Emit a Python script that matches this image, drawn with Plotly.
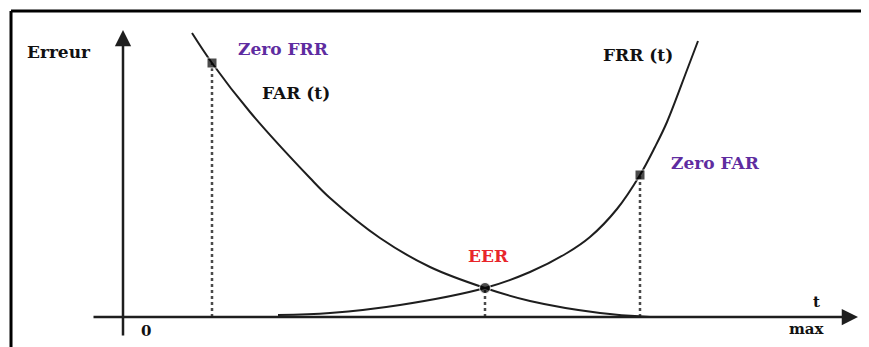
import plotly.graph_objects as go

# FAR(t) curve (t, error)
far_t = [0.69, 0.89, 1.27, 1.87, 2.07, 2.57, 3.07, 3.62, 4.07, 4.77, 5.27]
far_e = [2.84, 2.54, 2.05, 1.39, 1.19, 0.79, 0.50, 0.29, 0.16, 0.04, 0.00]

# FRR(t) curve
frr_t = [1.55, 2.07, 2.77, 3.62, 4.07, 4.44, 4.67, 4.94, 5.17, 5.32, 5.44, 5.64, 5.75]
frr_e = [0.02, 0.04, 0.12, 0.29, 0.45, 0.64, 0.80, 1.08, 1.42, 1.70, 1.95, 2.47, 2.76]

# special points
pt_names = ["Zero FRR", "EER", "Zero FAR"]
pt_t = [0.89, 3.62, 5.17]
pt_e = [2.54, 0.29, 1.42]

LINE = "#1e1e1e"
fig = go.Figure()

# dotted verticals
for tx, ey in zip(pt_t, pt_e):
    fig.add_trace(go.Scatter(x=[tx, tx], y=[0, ey], mode="lines",
                             line=dict(color="#4a4a4a", width=2.5, dash="dot"),
                             hoverinfo="skip", showlegend=False))

fig.add_trace(go.Scatter(x=far_t, y=far_e, mode="lines", line_shape="spline",
                         line=dict(color=LINE, width=2, smoothing=1.0), showlegend=False))
fig.add_trace(go.Scatter(x=frr_t, y=frr_e, mode="lines", line_shape="spline",
                         line=dict(color=LINE, width=2, smoothing=1.0), showlegend=False))

fig.add_trace(go.Scatter(x=pt_t, y=pt_e, mode="markers",
                         marker=dict(symbol=["square", "circle", "square"], size=[10, 11, 10],
                                     color="black"),
                         showlegend=False))

# axes with arrows
fig.add_annotation(x=7.35, y=0, ax=-0.31, ay=0, xref="x", yref="y", axref="x", ayref="y",
                   showarrow=True, arrowhead=2, arrowsize=1.3, arrowwidth=2.5,
                   arrowcolor=LINE, text="")
fig.add_annotation(x=0, y=2.87, ax=0, ay=-0.20, xref="x", yref="y", axref="x", ayref="y",
                   showarrow=True, arrowhead=2, arrowsize=1.3, arrowwidth=2.5,
                   arrowcolor=LINE, text="")

FONT = "DejaVu Serif"
def lab(text, x, y, color="#111111", size=17):
    fig.add_annotation(x=x, y=y, xref="x", yref="y", text="<b>%s</b>" % text,
                       showarrow=False, font=dict(family=FONT, size=size, color=color))

lab("Erreur", -0.64, 2.65)
lab("Zero FRR", 1.60, 2.68, color="#5e2ca0")
lab("FAR (t)", 1.73, 2.24)
lab("FRR (t)", 5.15, 2.62)
lab("Zero FAR", 5.92, 1.54, color="#5e2ca0")
lab("EER", 3.65, 0.61, color="#e8262a")
lab("0", 0.23, -0.14, size=15)
lab("t", 6.93, 0.15, size=15)
lab("max", 6.84, -0.12, size=15)

# frame (top and left)
fig.add_shape(type="line", xref="paper", yref="paper", x0=0.0035, x1=1.0, y0=0.9912, y1=0.9912,
              line=dict(color="black", width=3))
fig.add_shape(type="line", xref="paper", yref="paper", x0=0.0035, x1=0.0035, y0=0.0, y1=0.9912,
              line=dict(color="black", width=3))

fig.update_layout(width=861, height=339, margin=dict(l=0, r=0, t=0, b=0),
                  plot_bgcolor="white", paper_bgcolor="white",
                  xaxis=dict(range=[-1.15, 7.46], visible=False, fixedrange=True),
                  yaxis=dict(range=[-0.30, 3.09], visible=False, fixedrange=True))

fig.write_html("out.html")
